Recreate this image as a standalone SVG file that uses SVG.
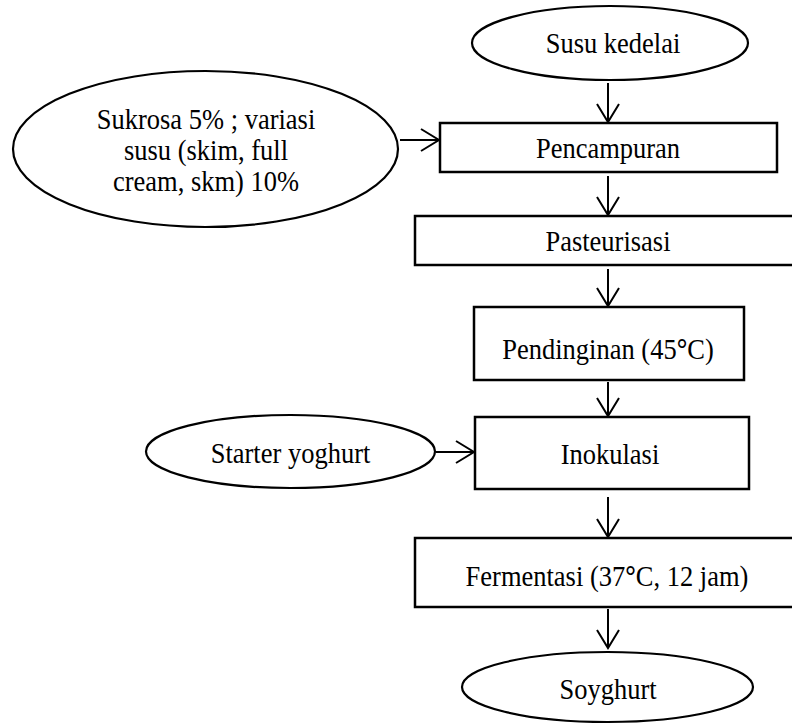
<svg xmlns="http://www.w3.org/2000/svg" width="792" height="724" viewBox="0 0 792 724">
<defs>
<style>
.box{fill:#fff;stroke:#000;stroke-width:2.5}
.ell{fill:#fff;stroke:#000;stroke-width:2.2}
.lbl{font-family:"Liberation Serif","Times New Roman",serif;font-size:26.5px;fill:#000;text-anchor:middle}
.arr{stroke:#000;stroke-width:2;fill:none;marker-end:url(#ah)}
</style>
<marker id="ah" markerUnits="userSpaceOnUse" markerWidth="24" markerHeight="26" viewBox="-20 -13 24 26" refX="0" refY="0" orient="auto">
<path d="M-18,-11 L0,0 L-18,11" fill="none" stroke="#000" stroke-width="2"/>
</marker>
</defs>
<rect width="792" height="724" fill="#fff"/>
<g id="connectors">
<line class="arr" x1="608" y1="83" x2="608" y2="122"/>
<line class="arr" x1="400" y1="140" x2="439" y2="140"/>
<line class="arr" x1="608" y1="176" x2="608" y2="215"/>
<line class="arr" x1="608" y1="269" x2="608" y2="306"/>
<line class="arr" x1="608" y1="382" x2="608" y2="416"/>
<line class="arr" x1="436" y1="452" x2="474" y2="452"/>
<line class="arr" x1="608" y1="497" x2="608" y2="537"/>
<line class="arr" x1="608" y1="609" x2="608" y2="648"/>
</g>
<g id="susu-kedelai">
<ellipse class="ell" cx="610" cy="43" rx="138" ry="37"/>
<text class="lbl" transform="matrix(1 0 0 1.12 613 53)">Susu kedelai</text>
</g>
<g id="sukrosa">
<ellipse class="ell" cx="205.5" cy="149" rx="192.5" ry="78"/>
<text class="lbl" transform="matrix(1 0 0 1.12 206 129)">Sukrosa 5% ; variasi</text>
<text class="lbl" transform="matrix(1 0 0 1.12 206 160)">susu (skim, full</text>
<text class="lbl" transform="matrix(1 0 0 1.12 206 191)">cream, skm) 10%</text>
</g>
<g id="pencampuran">
<rect class="box" x="440" y="123" width="337" height="49"/>
<text class="lbl" transform="matrix(1 0 0 1.12 608 158)">Pencampuran</text>
</g>
<g id="pasteurisasi">
<rect class="box" x="415" y="216" width="390" height="49"/>
<text class="lbl" transform="matrix(1 0 0 1.12 608 251)">Pasteurisasi</text>
</g>
<g id="pendinginan">
<rect class="box" x="474" y="307" width="270" height="73"/>
<text class="lbl" transform="matrix(1 0 0 1.12 608 359)">Pendinginan (45<tspan font-weight="bold">°</tspan>C)</text>
</g>
<g id="starter">
<ellipse class="ell" cx="290.5" cy="451.5" rx="144.5" ry="36.5"/>
<text class="lbl" transform="matrix(1 0 0 1.12 290.5 463)">Starter yoghurt</text>
</g>
<g id="inokulasi">
<rect class="box" x="475" y="417" width="274" height="72"/>
<text class="lbl" transform="matrix(1 0 0 1.12 610 464)">Inokulasi</text>
</g>
<g id="fermentasi">
<rect class="box" x="415" y="538" width="390" height="69"/>
<text class="lbl" transform="matrix(1 0 0 1.12 607 586)">Fermentasi (37<tspan font-weight="bold">°</tspan>C, 12 jam)</text>
</g>
<g id="soyghurt">
<ellipse class="ell" cx="607.5" cy="687" rx="145.5" ry="35"/>
<text class="lbl" transform="matrix(1 0 0 1.12 608 699)">Soyghurt</text>
</g>
</svg>
